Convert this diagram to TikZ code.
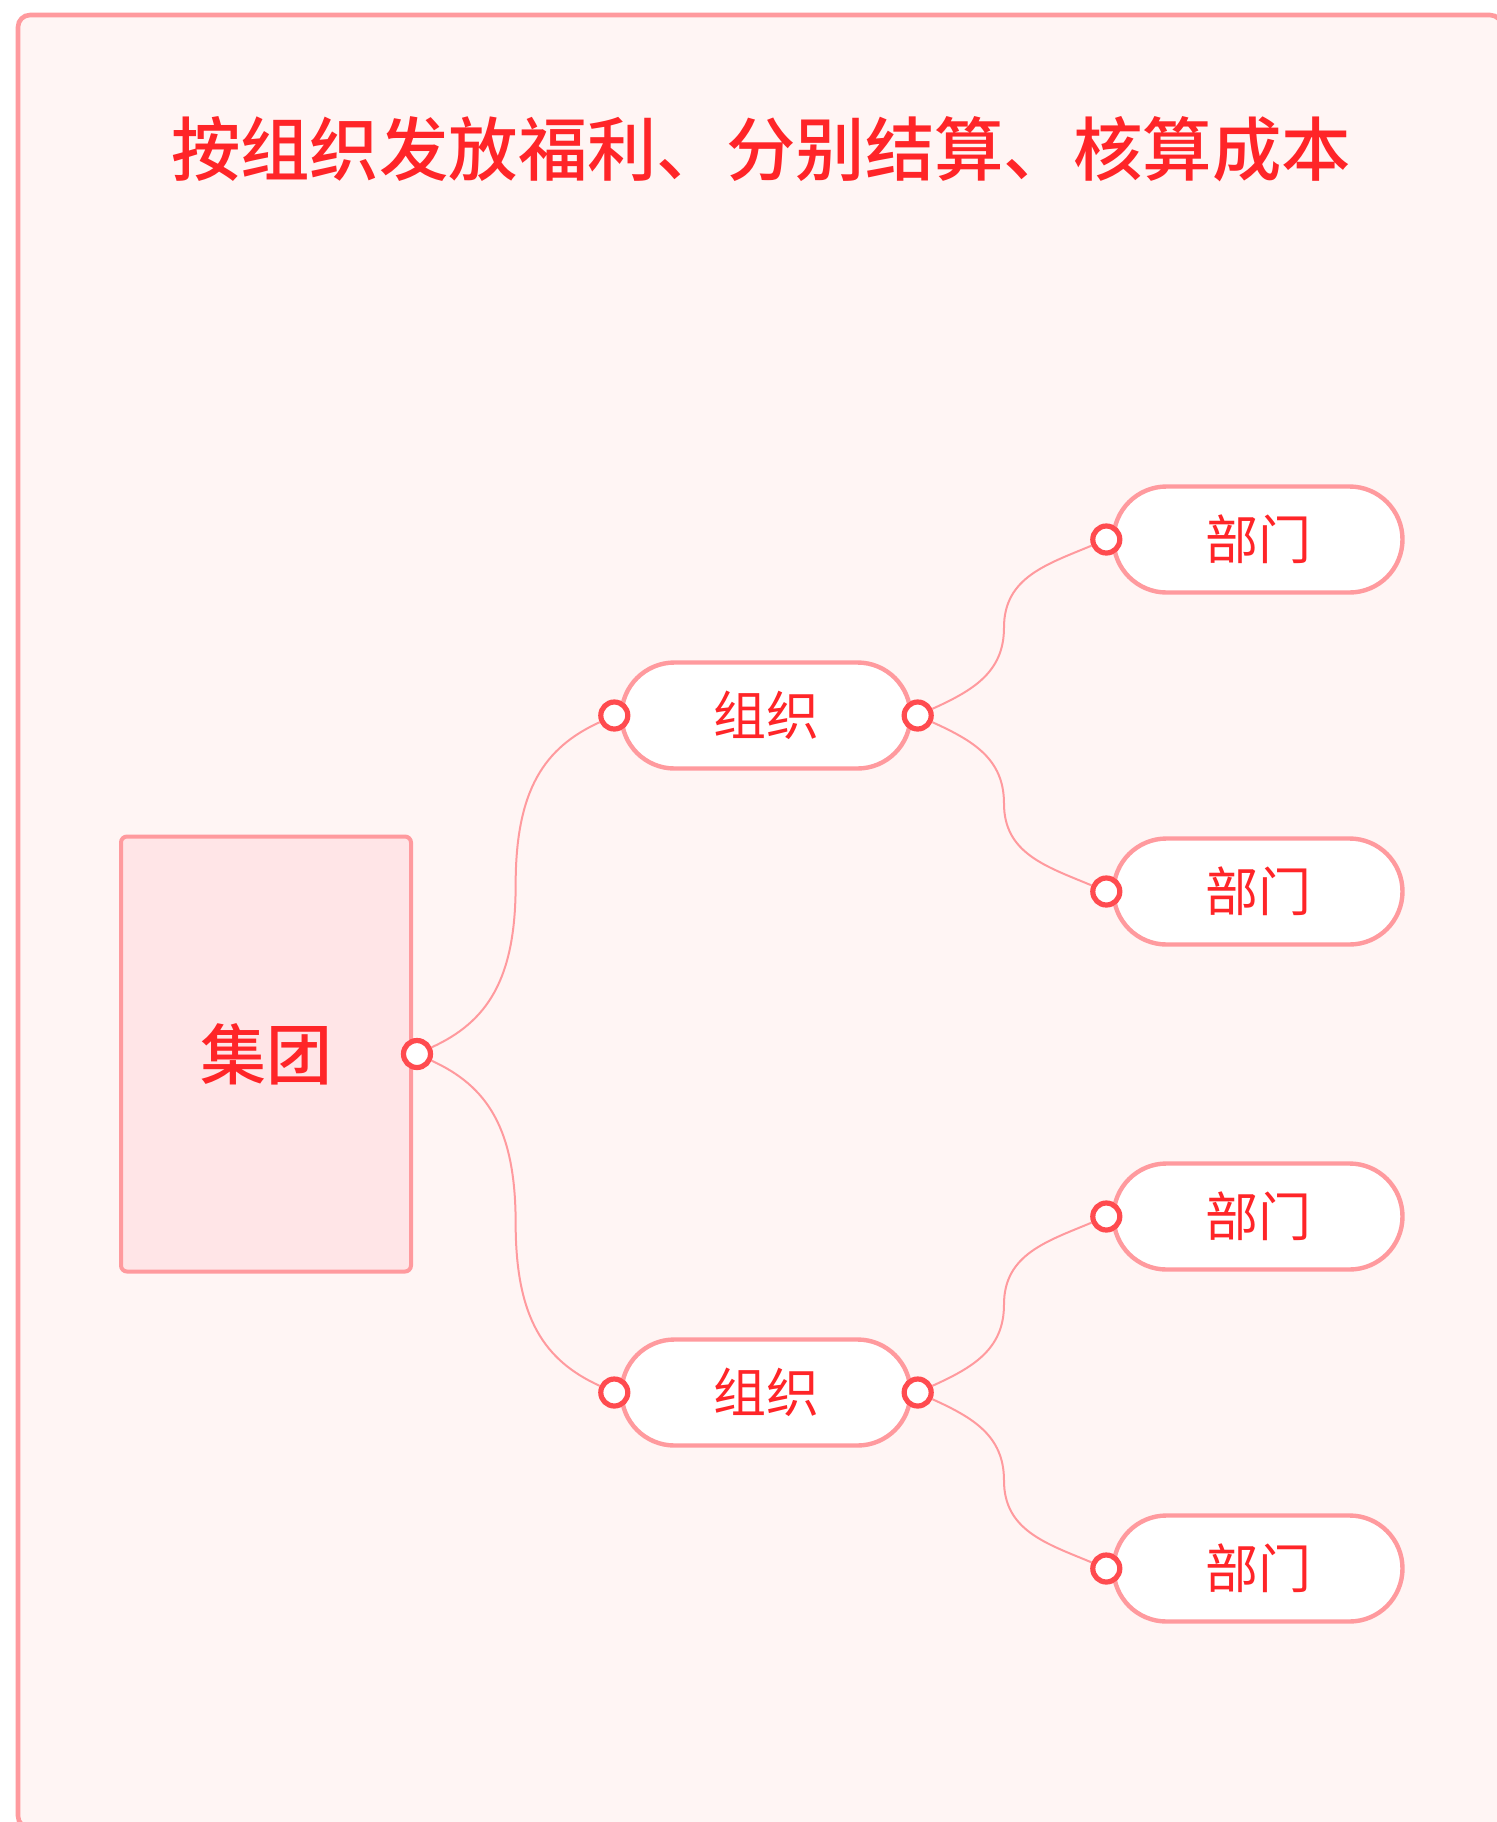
\documentclass[tikz,border=0pt]{standalone}
\usepackage{fontspec}
\setmainfont{Noto Sans CJK SC}[BoldFont={Noto Sans CJK SC Medium}]
\usetikzlibrary{calc}
\definecolor{pagebg}{HTML}{FFF5F4}
\definecolor{edge}{HTML}{FF9A9E}
\definecolor{boxfill}{HTML}{FFE5E7}
\definecolor{portred}{HTML}{FF4B4F}
\definecolor{inkred}{HTML}{FF2528}

\tikzset{
  frame/.style={draw=edge, fill=pagebg, line width=2.3pt, rounded corners=6pt},
  title/.style={text=inkred, font=\fontsize{34.7}{34.7}\selectfont\bfseries},
  groupbox/.style={draw=edge, fill=boxfill, line width=2pt, rounded corners=3pt,
    minimum width=145pt, minimum height=217.5pt, text=inkred,
    font=\fontsize{33}{33}\selectfont\bfseries},
  pill/.style={draw=edge, fill=white, line width=2.2pt, rounded corners=26.5pt,
    minimum width=144.5pt, minimum height=53pt, text=inkred,
    font=\fontsize{26.5}{26.5}\selectfont},
  port/.style={circle, draw=portred, fill=white, line width=2.6pt,
    minimum size=13.5pt, inner sep=0pt},
  link/.style={draw=edge, line width=1pt},
}

\begin{document}
\begin{tikzpicture}[x=0.5pt,y=-0.5pt]
  \def\W{1496};
  \def\H{1822};
  \def\gx{266};
  \def\ox{766};
  \def\dx{1258};
  \def\cy{1054};
  \def\oy{338.5};
  \def\dy{176};
  \fill[white] (0,0) rectangle (\W,\H);
  \useasboundingbox (0,0) rectangle (\W,\H);
  \draw[frame] (18,15) rectangle (1502,1828);
  \node[title] (head) at (761,149) {按组织发放福利、分别结算、核算成本};
  % boxes
  \node[groupbox] (group) at (\gx,\cy) {集团};
  \node[pill] (org1) at (\ox,\cy-\oy) {组织};
  \node[pill] (org2) at (\ox,\cy+\oy) {组织};
  \node[pill] (dep1) at (\dx,\cy-\oy-\dy) {部门};
  \node[pill] (dep2) at (\dx,\cy-\oy+\dy) {部门};
  \node[pill] (dep3) at (\dx,\cy+\oy-\dy) {部门};
  \node[pill] (dep4) at (\dx,\cy+\oy+\dy) {部门};
  % ports
  \node[port] (group-out) at ([xshift=2pt]group.east) {};
  \foreach \o in {1,2} {
    \node[port] (org\o-in) at ([xshift=-2.5pt]org\o.west) {};
    \node[port] (org\o-out) at ([xshift=2.5pt]org\o.east) {};
  }
  \foreach \d in {1,...,4}
    \node[port] (dep\d-in) at ([xshift=-2.5pt]dep\d.west) {};
  % links
  \foreach \a/\s in {org1/-1, org2/1}
    \draw[link] (group-out) .. controls +(70,32*\s) and +(0,-95*\s) .. ($(group-out)!.5!(\a-in)$)
      .. controls +(0,95*\s) and +(-70,-32*\s) .. (\a-in);
  \foreach \a/\b/\s in {org1/dep1/-1, org1/dep2/1, org2/dep3/-1, org2/dep4/1}
    \draw[link] (\a-out) .. controls +(55,25*\s) and +(0,-45*\s) .. ($(\a-out)!.5!(\b-in)+(-8,0)$)
      .. controls +(0,50*\s) and +(-60,-25*\s) .. (\b-in);
\end{tikzpicture}
\end{document}
